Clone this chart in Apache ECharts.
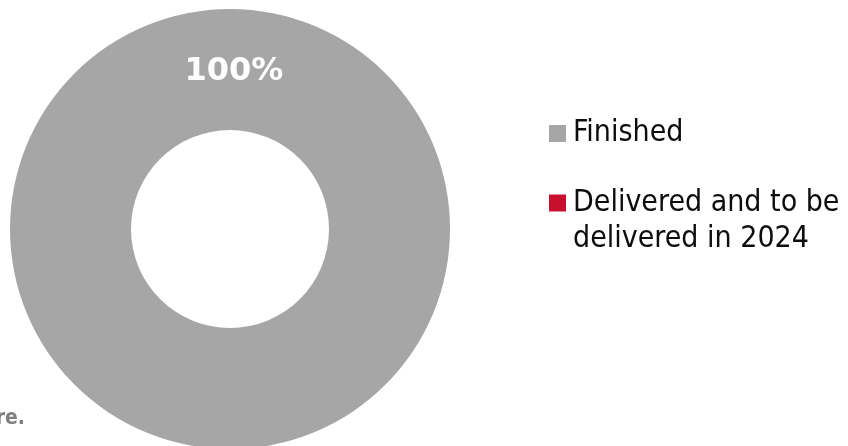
<!DOCTYPE html>
<html>
<head>
<meta charset="utf-8">
<script src="https://cdn.jsdelivr.net/npm/echarts@6/dist/echarts.min.js"></script>
<style>html,body{margin:0;padding:0;background:#fff}#c{width:848px;height:446px}</style>
</head>
<body>
<div id="c"></div>
<script>
const categories = ['Finished', 'Delivered and to be\ndelivered in 2024'];
const values = [100, 0];
const colors = ['#A6A6A6', '#C8102E'];
const footnote = 're.';

const chart = echarts.init(document.getElementById('c'), null, {renderer: 'canvas'});
const legendText = {fontFamily: 'DejaVu Sans Condensed', fontSize: 30, color: '#0d0d0d', lineHeight: 36, padding: [0, 0, 0, 2]};
chart.setOption({
  animation: false,
  backgroundColor: '#ffffff',
  color: colors,
  graphic: [{
    type: 'text', x: 25, y: 419, silent: true,
    style: {
      text: footnote, align: 'right', verticalAlign: 'middle',
      font: 'bold 21px "DejaVu Sans Condensed"', fill: '#7f7f7f'
    }
  }],
  legend: [{
    orient: 'vertical', left: 549, top: 115.5, padding: 0,
    itemWidth: 17, itemHeight: 17, icon: 'rect',
    data: [categories[0]],
    textStyle: legendText
  }, {
    orient: 'vertical', left: 549, top: 149, padding: 0,
    itemWidth: 17, itemHeight: 17, icon: 'rect',
    data: [categories[1]],
    formatter: name => '\n' + name,
    textStyle: legendText
  }],
  series: [{
    type: 'pie',
    center: [230, 229],
    radius: [99, 220],
    startAngle: 270,
    clockwise: true,
    avoidLabelOverlap: false,
    stillShowZeroSum: true,
    label: {
      show: true, position: 'inside', offset: [4, 5],
      formatter: p => p.value > 0 ? Math.round(p.percent) + '%' : '',
      color: '#ffffff', fontFamily: 'DejaVu Sans', fontWeight: 'bold', fontSize: 32
    },
    labelLine: {show: false},
    emphasis: {disabled: true},
    itemStyle: {borderWidth: 0},
    data: categories.map((c, i) => ({name: c, value: values[i]}))
  }]
});
</script>
</body>
</html>
